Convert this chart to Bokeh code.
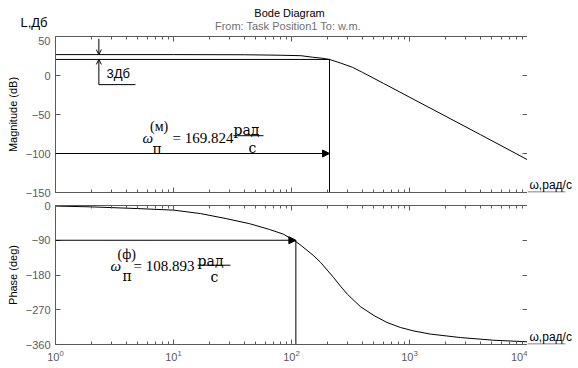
from bokeh.plotting import figure
from bokeh.layouts import column, row
from bokeh.models import (FixedTicker, LogAxis, LinearAxis, Label, Arrow,
                          NormalHead, OpenHead, Range1d, LogTickFormatter)
from bokeh.embed import file_html
from bokeh.resources import INLINE

# ---------------- data ----------------
w_mag = [1, 10, 40, 80, 120, 150, 180, 210, 260, 330, 400, 600, 1000, 2000, 4000, 10000]
mag_db = [26.8, 26.8, 26.6, 26.0, 25.4, 23.5, 22.2, 20.6, 16.0, 10.4, 4.0, -10.0, -27.8, -51.8, -75.9, -108.0]

w_ph = [1, 2, 5, 10, 17, 28, 44, 65, 85, 105, 120, 154, 176, 228, 260, 298, 384, 500,
        645, 839, 1090, 1500, 2700, 5200, 10000]
phase_deg = [-1.5, -3.5, -8, -12, -21, -34, -47, -62, -74, -90, -103, -130, -147, -187,
             -209, -230, -262, -285, -303, -316, -325, -333, -342, -349, -353]

L_flat = 26.8          # low-frequency level
L_cut = 20.6           # level of the cut-off line
w_cut_mag_line = 210   # where the magnitude cut-off line is drawn
w_cut_mag = 169.824    # value written on the chart
w_cut_ph = 108.893
mag_ref = -100
ph_ref = -90

x_major = [1, 10, 100, 1000, 10000]
x_minor = [m * 10 ** e for e in range(4) for m in range(2, 10)]
mag_ticks = [-150, -100, -50, 0, 50]
ph_ticks = [-360, -270, -180, -90, 0]
mag_lim = (-150, 50)
ph_lim = (-360, 0)

# ---------------- styles ----------------
AX = "#5a5a5a"
SANS = "Liberation Sans"
SERIF = "Liberation Serif"
SERIF_W = "DejaVu Serif"
W_MAIN = 527     # canvas width of the plots (frame right edge at the canvas edge)
W_SIDE = 51
H_HEAD = 36


def style_axis(ax, show_labels=True):
    ax.axis_line_color = AX
    ax.major_tick_line_color = AX
    ax.minor_tick_line_color = AX
    ax.major_tick_in = 5
    ax.major_tick_out = 0
    ax.minor_tick_in = 3
    ax.minor_tick_out = 0
    ax.major_label_text_font = SANS
    ax.major_label_text_font_size = "11px"
    ax.major_label_text_color = AX
    if not show_labels:
        ax.major_label_text_color = None
        ax.major_label_text_font_size = "0px"
        ax.major_label_standoff = 0


def blank_fig(width, height, yr):
    f = figure(width=width, height=height, x_range=Range1d(0, width), y_range=Range1d(0, yr),
               output_backend="svg", toolbar_location=None,
               x_axis_location=None, y_axis_location=None,
               min_border_left=0, min_border_right=0, min_border_top=0, min_border_bottom=0)
    f.grid.visible = False
    f.outline_line_color = None
    f.border_fill_color = "white"
    f.background_fill_color = "white"
    return f


def make_fig(height, ylim, yticks, ylabel, show_x, mb_top, mb_bottom):
    p = figure(width=W_MAIN, height=height, x_axis_type="log",
               x_range=Range1d(x_major[0], x_major[-1]), y_range=Range1d(*ylim),
               output_backend="svg", toolbar_location=None,
               min_border_left=55, min_border_right=0,
               min_border_top=mb_top, min_border_bottom=mb_bottom)
    p.outline_line_color = None
    p.grid.visible = False
    p.background_fill_color = "white"
    p.border_fill_color = "white"
    xt = FixedTicker(ticks=x_major, minor_ticks=x_minor)
    yt = FixedTicker(ticks=yticks, minor_ticks=[])
    p.xaxis.ticker = xt
    p.yaxis.ticker = yt
    for ax in p.xaxis:
        style_axis(ax, show_x)
        ax.formatter = LogTickFormatter()
        ax.major_label_standoff = 5 if show_x else 0
    for ax in p.yaxis:
        style_axis(ax, True)
        ax.major_label_standoff = 5
        ax.axis_label = ylabel
        ax.axis_label_text_font = SANS
        ax.axis_label_text_font_size = "11px"
        ax.axis_label_text_font_style = "normal"
        ax.axis_label_text_color = "black"
        ax.axis_label_standoff = 4
    top = LogAxis(ticker=xt)
    style_axis(top, False)
    p.add_layout(top, "above")
    right = LinearAxis(ticker=yt)
    style_axis(right, False)
    p.add_layout(right, "right")
    return p


def side_fig(height, frame_h):
    # its frame is aligned with the neighbouring plot's frame; 1 unit = 1 px
    s = blank_fig(W_SIDE, height, frame_h)
    # continuation of the x axis line under the omega label
    s.segment(x0=[0], y0=[0.5], x1=[38], y1=[0.5], line_color=AX, line_width=1)
    s.add_layout(Label(x=2, y=1, x_units="screen", y_units="screen", text="ω,рад/с",
                       text_font=SANS, text_font_size="12px", text_color="black",
                       text_align="left", text_baseline="bottom"))
    return s


# ---------------- header ----------------
head = blank_fig(W_MAIN + W_SIDE, H_HEAD, H_HEAD)
head.add_layout(Label(x=289, y=24, x_units="screen", y_units="screen", text="Bode Diagram",
                      text_font=SANS, text_font_size="11px", text_color="black",
                      text_align="center", text_baseline="middle"))
head.add_layout(Label(x=289, y=11, x_units="screen", y_units="screen",
                      text="From: Task Position1  To: w.m.",
                      text_font=SANS, text_font_size="11px", text_color="#707070",
                      text_align="center", text_baseline="middle"))
head.add_layout(Label(x=47, y=14, x_units="screen", y_units="screen", text="L,Дб",
                      text_font=SANS, text_font_size="13px", text_color="black",
                      text_align="right", text_baseline="middle"))

# ---------------- magnitude ----------------
H1, MT1, MB1 = 162, 0, 6
p1 = make_fig(H1, mag_lim, mag_ticks, "Magnitude (dB)", False, MT1, MB1)
p1.line(w_mag, mag_db, line_color="black", line_width=1)
p1.segment(x0=[x_major[0]], y0=[L_cut], x1=[w_cut_mag_line], y1=[L_cut], line_color="black")
p1.segment(x0=[w_cut_mag_line], y0=[L_cut], x1=[w_cut_mag_line], y1=[mag_lim[0]], line_color="black")
p1.add_layout(Arrow(end=NormalHead(size=7, fill_color="black", line_color="black"),
                    x_start=x_major[0], y_start=mag_ref, x_end=w_cut_mag_line, y_end=mag_ref,
                    line_color="black", line_width=1))
# 3 dB marker
dim_x = 2.33
p1.add_layout(Arrow(end=OpenHead(size=5, line_color="black", line_width=1),
                    x_start=dim_x, y_start=47, x_end=dim_x, y_end=L_flat,
                    line_color="black", line_width=1))
p1.add_layout(Arrow(end=OpenHead(size=5, line_color="black", line_width=1),
                    x_start=dim_x, y_start=-11.7, x_end=dim_x, y_end=L_cut,
                    line_color="black", line_width=1))
p1.segment(x0=[dim_x], y0=[-11.7], x1=[4.76], y1=[-11.7], line_color="black")
p1.add_layout(Label(x=2.70, y=2.0, text="3Дб", text_font=SANS, text_font_size="13px",
                    text_color="black", text_align="left", text_baseline="middle"))


def formula(p, wx, yv, sup, value, bar_x0, bar_x1, bar_y, d_eq, d_sup, d_sub, d_rad, d_c):
    def lab(text, dx, dy, size, italic=False, font=SERIF):
        p.add_layout(Label(x=wx, y=yv, x_offset=dx, y_offset=dy, text=text,
                           text_font=font, text_font_size=size, text_color="black",
                           text_font_style="italic" if italic else "normal",
                           text_align="left", text_baseline="alphabetic"))
    lab("ω", 0, 0, "15px", True)
    lab(sup, d_sup[0], d_sup[1], "14px")
    lab("п", d_sub[0], d_sub[1], "14px", font=SERIF_W)
    lab("= " + value, d_eq, 0, "15px")
    lab("рад", d_rad[0], d_rad[1], "14px", font=SERIF_W)
    lab("с", d_c[0], d_c[1], "14px", font=SERIF_W)
    p.segment(x0=[bar_x0], y0=[bar_y], x1=[bar_x1], y1=[bar_y], line_color="black")


formula(p1, 5.46, -80.7, "(м)", f"{w_cut_mag:.3f}", 32.2, 57.9, -77.2,
        30, (7.5, 11.5), (10, -10.5), (91, 8), (106, -9.5))

# ---------------- phase ----------------
H2, MT2, MB2 = 170, 7, 24
p2 = make_fig(H2, ph_lim, ph_ticks, "Phase (deg)", True, MT2, MB2)
p2.line(w_ph, phase_deg, line_color="black", line_width=1)
p2.add_layout(Arrow(end=NormalHead(size=7, fill_color="black", line_color="black"),
                    x_start=x_major[0], y_start=ph_ref, x_end=w_cut_ph, y_end=ph_ref,
                    line_color="black", line_width=1))
p2.segment(x0=[w_cut_ph], y0=[ph_ref], x1=[w_cut_ph], y1=[ph_lim[0]], line_color="black")

formula(p2, 2.93, -157.3, "(ф)", f"{w_cut_ph:.3f}", 10**((197 - 55) / 118), 10**((230 - 55) / 118),
        -(265 - 205.5) / 0.3847, 23, (7, 12), (12, -10), (87, 5.5), (100, -11))

s1 = side_fig(H1, H1 - MT1 - MB1)
s2 = side_fig(H2, H2 - MT2 - MB2)

layout = column(head, row(p1, s1), row(p2, s2))
open("out.html", "w").write(file_html(layout, INLINE))
